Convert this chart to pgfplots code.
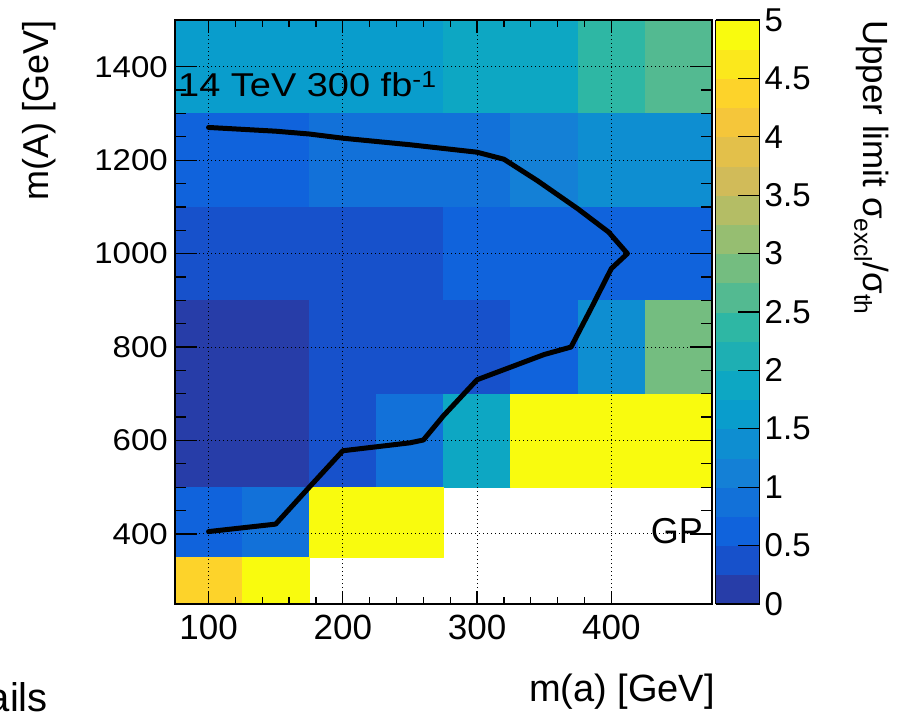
\documentclass[border=0pt]{standalone}
\usepackage{fontspec}
\setmainfont{Liberation Sans}
\usepackage{pgfplots}
\usepackage{pgfplotstable}
\pgfplotsset{compat=1.18}
\usepgfplotslibrary{patchplots}

% each cell: its four corners, value c = sigma_excl/sigma_th
\pgfplotstableread{
x y c
75 1300 1.625
125 1300 1.625
125 1500 1.625
75 1500 1.625
125 1300 1.625
175 1300 1.625
175 1500 1.625
125 1500 1.625
175 1300 1.625
225 1300 1.625
225 1500 1.625
175 1500 1.625
225 1300 1.625
275 1300 1.625
275 1500 1.625
225 1500 1.625
275 1300 1.875
325 1300 1.875
325 1500 1.875
275 1500 1.875
325 1300 1.875
375 1300 1.875
375 1500 1.875
325 1500 1.875
375 1300 2.375
425 1300 2.375
425 1500 2.375
375 1500 2.375
425 1300 2.625
475 1300 2.625
475 1500 2.625
425 1500 2.625
75 1100 0.625
125 1100 0.625
125 1300 0.625
75 1300 0.625
125 1100 0.625
175 1100 0.625
175 1300 0.625
125 1300 0.625
175 1100 0.875
225 1100 0.875
225 1300 0.875
175 1300 0.875
225 1100 0.875
275 1100 0.875
275 1300 0.875
225 1300 0.875
275 1100 0.875
325 1100 0.875
325 1300 0.875
275 1300 0.875
325 1100 1.125
375 1100 1.125
375 1300 1.125
325 1300 1.125
375 1100 1.375
425 1100 1.375
425 1300 1.375
375 1300 1.375
425 1100 1.375
475 1100 1.375
475 1300 1.375
425 1300 1.375
75 900 0.375
125 900 0.375
125 1100 0.375
75 1100 0.375
125 900 0.375
175 900 0.375
175 1100 0.375
125 1100 0.375
175 900 0.375
225 900 0.375
225 1100 0.375
175 1100 0.375
225 900 0.375
275 900 0.375
275 1100 0.375
225 1100 0.375
275 900 0.625
325 900 0.625
325 1100 0.625
275 1100 0.625
325 900 0.625
375 900 0.625
375 1100 0.625
325 1100 0.625
375 900 0.625
425 900 0.625
425 1100 0.625
375 1100 0.625
425 900 0.625
475 900 0.625
475 1100 0.625
425 1100 0.625
75 700 0.125
125 700 0.125
125 900 0.125
75 900 0.125
125 700 0.125
175 700 0.125
175 900 0.125
125 900 0.125
175 700 0.375
225 700 0.375
225 900 0.375
175 900 0.375
225 700 0.375
275 700 0.375
275 900 0.375
225 900 0.375
275 700 0.375
325 700 0.375
325 900 0.375
275 900 0.375
325 700 0.625
375 700 0.625
375 900 0.625
325 900 0.625
375 700 1.375
425 700 1.375
425 900 1.375
375 900 1.375
425 700 2.875
475 700 2.875
475 900 2.875
425 900 2.875
75 500 0.125
125 500 0.125
125 700 0.125
75 700 0.125
125 500 0.125
175 500 0.125
175 700 0.125
125 700 0.125
175 500 0.375
225 500 0.375
225 700 0.375
175 700 0.375
225 500 0.875
275 500 0.875
275 700 0.875
225 700 0.875
275 500 1.875
325 500 1.875
325 700 1.875
275 700 1.875
325 500 5
375 500 5
375 700 5
325 700 5
375 500 5
425 500 5
425 700 5
375 700 5
425 500 5
475 500 5
475 700 5
425 700 5
75 350 0.625
125 350 0.625
125 500 0.625
75 500 0.625
125 350 0.875
175 350 0.875
175 500 0.875
125 500 0.875
175 350 5
225 350 5
225 500 5
175 500 5
225 350 5
275 350 5
275 500 5
225 500 5
75 250 4.375
125 250 4.375
125 350 4.375
75 350 4.375
125 250 5
175 250 5
175 350 5
125 350 5
}\cells

\pgfplotstableread{
x y
100 405
150 421
175 500
200 578
250 595
260 601
275 653
300 730
350 784
370 800
385 883
400 968
412 1000
398 1046
375 1096
345 1156
320 1202
300 1217
250 1233
200 1247
175 1256
150 1262
100 1270
}\contour

\begin{document}
\begin{tikzpicture}
\useasboundingbox (0,0) rectangle (899pt,713pt);
\begin{axis}[
  at={(175pt,109pt)}, anchor=south west,
  width=537pt, height=584pt, scale only axis,
  xmin=75, xmax=475, ymin=250, ymax=1500,
  xtick={100,200,300,400},
  ytick={400,600,800,1000,1200,1400},
  minor x tick num=4, minor y tick num=3,
  tick align=inside, xtick pos=both, ytick pos=both,
  x tick style={/pgfplots/major tick length=13pt, /pgfplots/minor tick length=7pt},
  y tick style={/pgfplots/major tick length=22pt, /pgfplots/minor tick length=11pt},
  tick style={black, line width=1.3pt},
  axis line style={black, line width=1.5pt},
  grid=major,
  major grid style={black, line width=0.9pt, dash pattern=on 1pt off 3pt},
  axis on top,
  /pgf/number format/assume math mode=true,
  /pgf/number format/set thousands separator={},
  xticklabel style={font=\fontsize{35}{35}\selectfont, inner sep=0pt, yshift=-11pt},
  yticklabel style={font=\fontsize{30}{30}\selectfont, inner sep=0pt, xshift=-7pt, xscale=1.1},
  colormap={rootbird}{
    rgb255=(39,61,168) rgb255=(23,81,203) rgb255=(16,99,220) rgb255=(18,113,217)
    rgb255=(20,128,214) rgb255=(14,142,209) rgb255=(9,157,204) rgb255=(13,167,195)
    rgb255=(30,175,179) rgb255=(46,183,164) rgb255=(83,186,145) rgb255=(116,189,128)
    rgb255=(150,190,113) rgb255=(180,189,101) rgb255=(209,187,89) rgb255=(227,192,74)
    rgb255=(245,198,58) rgb255=(253,211,42) rgb255=(251,232,28) rgb255=(249,251,14)},
  colormap access=piecewise constant,
  point meta min=0, point meta max=5,
  colorbar,
  colorbar style={
    at={(parent axis.north east)}, anchor=north west, xshift=-5pt,
    width=44pt,
    ytick={0,0.5,...,5},
    minor y tick num=0,
    ytick pos=right, yticklabel pos=right,
    tick align=inside,
    major tick length=22pt,
    tick style={black, line width=1.3pt},
    axis line style={black, line width=1.3pt},
    /pgf/number format/assume math mode=true,
    yticklabel style={font=\fontsize{33}{33}\selectfont, inner sep=0pt, xshift=5pt},
  },
]
\addplot[patch, patch type=rectangle, shader=flat, point meta=explicit]
  table[x=x, y=y, meta=c] {\cells};
\addplot[black, line width=5pt, line join=round, line cap=round] table[x=x, y=y] {\contour};
\end{axis}
\node[rotate=90, anchor=north east, inner sep=0pt, font=\fontsize{36}{36}\selectfont] at (22pt,693pt) {m(A) [GeV]};
\node[anchor=base east, inner sep=0pt, font=\fontsize{38}{38}\selectfont] at (715pt,12pt) {m(a) [GeV]};
\node[rotate=-90, anchor=north west, inner sep=0pt, font=\fontsize{35}{35}\selectfont] at (889pt,693pt) {Upper limit σ\textsubscript{excl}/σ\textsubscript{th}};
\node[anchor=base west, inner sep=0pt, font=\fontsize{33}{33}\selectfont, xscale=1.15] at (178pt,616pt) {14 TeV 300 fb\textsuperscript{-1}};
\node[anchor=base east, inner sep=0pt, font=\fontsize{36}{36}\selectfont] at (703pt,170pt) {GP};
\node[anchor=base east, inner sep=0pt, font=\fontsize{40}{40}\selectfont] at (48pt,2pt) {Details};
\end{tikzpicture}
\end{document}
